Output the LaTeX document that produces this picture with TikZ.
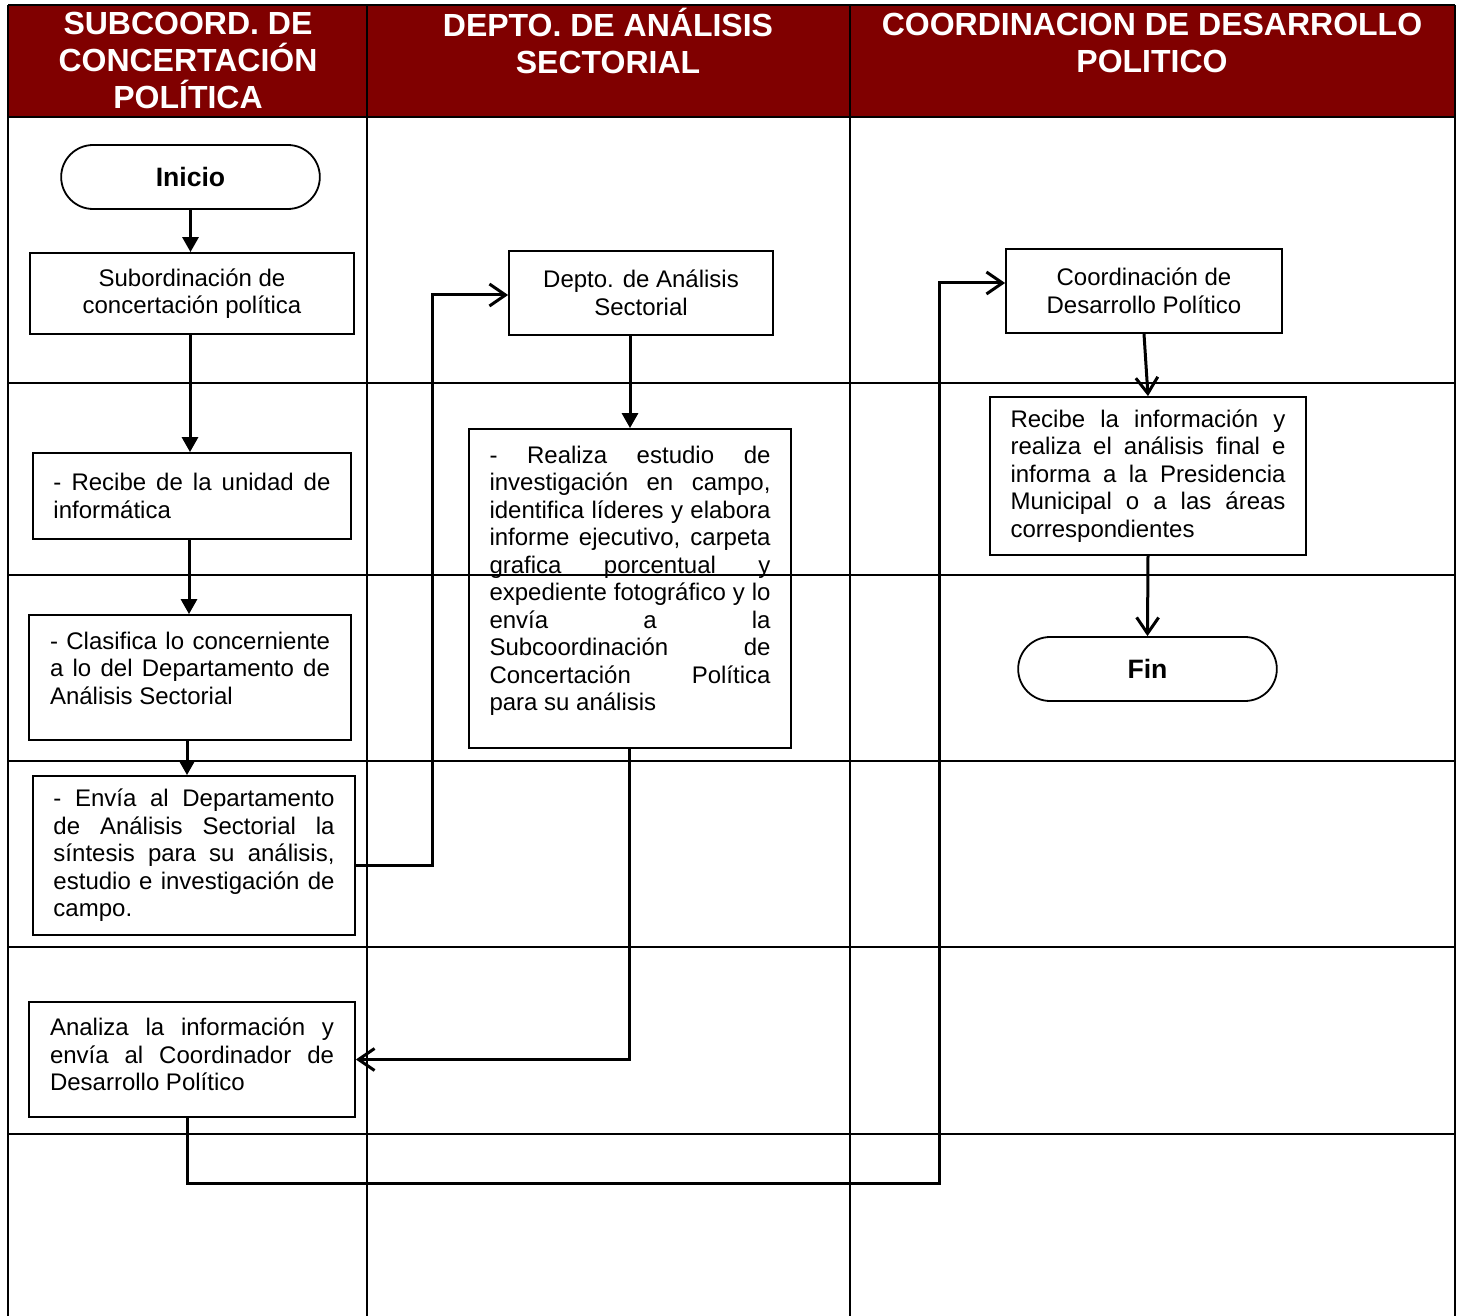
\documentclass[tikz,border=0pt]{standalone}
\usepackage{fontspec}
\setmainfont{Liberation Sans}
\usetikzlibrary{positioning, shapes.misc, arrows.meta}

\definecolor{headred}{HTML}{800000}
\hyphenpenalty=10000

\tikzset{
  lane/.style={line width=1pt},
  headtext/.style={text=white, font=\fontsize{16}{18.5}\selectfont\bfseries, align=center},
  terminal/.style={rounded rectangle, draw, line width=0.9pt, minimum width=136pt, minimum height=32pt, font=\fontsize{13.3}{15}\selectfont\bfseries},
  stepbox/.style={rectangle, draw, line width=0.9pt, inner sep=0pt, font=\fontsize{12}{13.75}\selectfont},
  flow/.style={line width=1.5pt, -{Triangle[length=7.5pt,width=8pt]}},
  jump/.style={line width=1.5pt, -{Straight Barb[length=8pt,width=11pt,line width=1.5pt]}}
}

\begin{document}
\begin{tikzpicture}[x=0.5pt, y=-0.5pt]

\useasboundingbox (0,0) rectangle (1458,1316);

% header band
\fill [headred] (8,5) rectangle (1455,117);

% lanes
\draw [lane] (8,5) -- (1455,5);
\draw [lane] (8,5) -- (8,1316);
\draw [lane] (367,5) -- (367,1316);
\draw [lane] (850,5) -- (850,1316);
\draw [lane] (1455,5) -- (1455,1316);
\draw [lane] (8,117) -- (1455,117);
\draw [lane] (8,383) -- (1455,383);
\draw [lane] (8,575) -- (1455,575);
\draw [lane] (8,761) -- (1455,761);
\draw [lane] (8,947) -- (1455,947);
\draw [lane] (8,1134) -- (1455,1134);

\node (h1) at (188,60.5) [headtext] {SUBCOORD. DE\\CONCERTACIÓN\\POLÍTICA};
\node (h2) at (608,40.5) [headtext] {DEPTO. DE ANÁLISIS\\SECTORIAL};
\node (h3) at (1152,42.5) [headtext] {COORDINACION DE DESARROLLO\\POLITICO};

% first lane
\node (ini) at (190.5,177) [terminal] {Inicio};

\node (sub) at (192,293.5) [stepbox, minimum width=162pt, minimum height=40.5pt, align=center] {Subordinación de\\concertación política};

\node (recibe) at (192,496) [stepbox, minimum width=159pt, minimum height=43pt, text width=138.5pt, align=justify] {- Recibe de la unidad de\linebreak informática};

\node (clasif) at (190,677.5) [stepbox, minimum width=161pt, minimum height=62.5pt, text width=140pt, align=justify] {- Clasifica lo concerniente\linebreak a lo del Departamento de\linebreak Análisis Sectorial\\[-4.25pt]};

\node (envia) at (194,855.5) [stepbox, minimum width=161pt, minimum height=79.5pt, text width=140.5pt, align=justify] {- Envía al Departamento\linebreak de Análisis Sectorial la\linebreak síntesis para su análisis,\linebreak estudio e investigación de\linebreak campo.};

\node (analiza) at (192,1059.5) [stepbox, minimum width=163pt, minimum height=57.5pt, text width=142pt, align=justify] {Analiza la información y\linebreak envía al Coordinador de\linebreak Desarrollo Político\\[-8.75pt]};

% second lane
\node (depto) at (641,293) [stepbox, minimum width=132pt, minimum height=42pt, align=center] {Depto. de Análisis\\Sectorial};

\node (realiza) at (630,588.5) [stepbox, minimum width=161pt, minimum height=159.5pt, text width=140.5pt, align=justify] {- Realiza estudio de\linebreak investigación en campo,\linebreak identifica líderes y elabora\linebreak informe ejecutivo, carpeta\linebreak grafica porcentual y\linebreak expediente fotográfico y lo\linebreak envía a la\linebreak Subcoordinación de\linebreak Concertación Política\linebreak para su análisis\\[-3.75pt]};

% third lane
\node (coord) at (1144,291) [stepbox, minimum width=138pt, minimum height=42pt, align=center] {Coordinación de\\Desarrollo Político};

\node (final) at (1148,476) [stepbox, minimum width=158pt, minimum height=79pt, text width=137.5pt, align=justify] {Recibe la información y\linebreak realiza el análisis final e\linebreak informa a la Presidencia\linebreak Municipal o a las áreas\linebreak correspondientes};

\node (fin) at (1147.5,669) [terminal] {Fin};

% connectors
\coordinate (up1) at (432,865);
\coordinate (low1) at (939,1183);

\draw [flow] (ini.south) -- (ini.south |- sub.north);
\draw [flow] ([xshift=-1pt]sub.south) -- ([xshift=-1pt]sub.south |- recibe.north);
\draw [flow] ([xshift=-1.5pt]recibe.south) -- ([xshift=-1.5pt]recibe.south |- clasif.north);
\draw [flow] ([xshift=-1.5pt]clasif.south) -- ([xshift=-1.5pt]clasif.south |- envia.north);
\draw [jump] (envia.east |- up1) -- (up1) |- ([yshift=-1pt]depto.west);
\draw [flow] (depto.south -| realiza.north) -- (realiza.north);
\draw [jump] ([xshift=-0.5pt]realiza.south) |- (analiza.east);
\draw [jump] ([xshift=-2.5pt]analiza.south) |- (low1) |- ([yshift=4pt]coord.west);
\draw [jump] (coord.south) -- (final.north);
\draw [jump] (final.south) -- (fin.north);

\end{tikzpicture}
\end{document}
